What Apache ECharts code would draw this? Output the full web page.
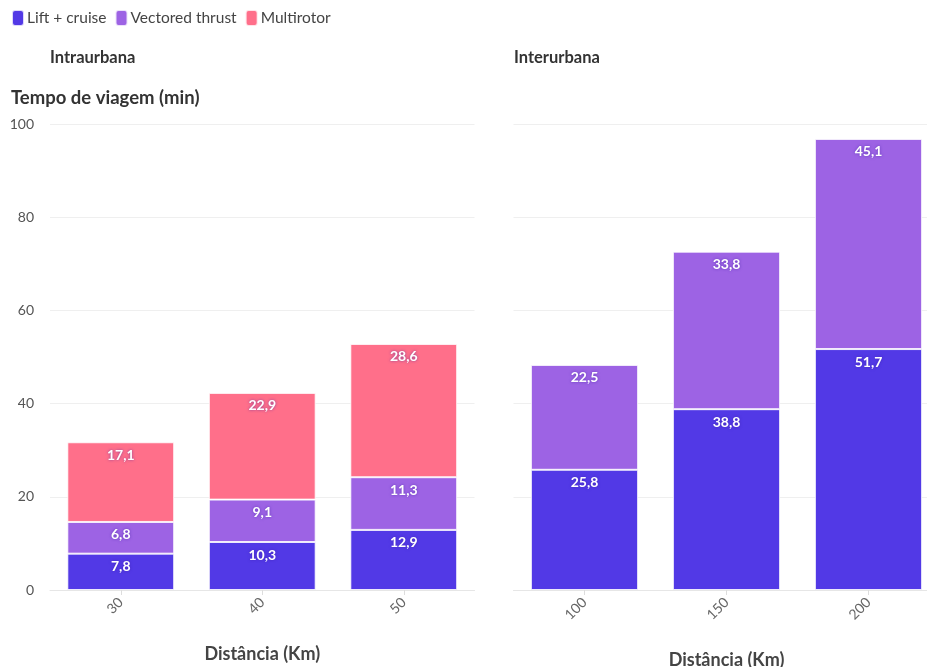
<!DOCTYPE html>
<html><head><meta charset="utf-8">
<script src="https://cdn.jsdelivr.net/npm/echarts@6/dist/echarts.min.js"></script>
<style>html,body{margin:0;padding:0;background:#fff}#c{width:927px;height:667px}</style>
</head><body><div id="c"></div>
<script>
const intraCategories = ['30', '40', '50'];
const intraLift = [7.8, 10.3, 12.9];
const intraVectored = [6.8, 9.1, 11.3];
const intraMulti = [17.1, 22.9, 28.6];
const interCategories = ['100', '150', '200'];
const interLift = [25.8, 38.8, 51.7];
const interVectored = [22.5, 33.8, 45.1];
const yTicks = [0, 20, 40, 60, 80, 100];

const FONT = 'Lato';
const cLift = '#5239e6', cVect = '#9d63e4', cMulti = '#ff6f8a';
const chart = echarts.init(document.getElementById('c'), null, {renderer: 'canvas'});

const label = {
  show: true, position: 'insideTop', distance: 6, color: '#fff', fontWeight: 'bold',
  fontSize: 14, fontFamily: FONT, textShadowColor: 'rgba(60,30,160,0.6)', textShadowBlur: 3,
  formatter: p => String(p.value).replace('.', ',')
};
const item = c => ({color: c, borderColor: 'rgba(255,255,255,0.8)', borderWidth: 1});
function bar(name, data, color, idx) {
  return {name, type: 'bar', stack: 's' + idx, data, xAxisIndex: idx, yAxisIndex: idx,
    barWidth: '75.5%', itemStyle: item(color), label, emphasis: {disabled: true}};
}
const xBase = (cats) => ({
  type: 'category', data: cats,
  axisLine: {lineStyle: {color: '#e6e6e6'}},
  axisTick: {show: true, alignWithLabel: true, lineStyle: {color: '#ddd'}},
  axisLabel: {rotate: 45, color: '#666', fontSize: 14, fontFamily: FONT, margin: 10},
  name: 'Distância (Km)', nameLocation: 'middle',
  nameTextStyle: {fontWeight: 'bold', fontSize: 18, color: '#444', fontFamily: FONT}
});
const yBase = (show) => ({
  type: 'value', min: 0, max: 100, interval: 20,
  axisLabel: {show, color: '#555', fontSize: 14, fontFamily: FONT, margin: 16,
    formatter: v => yTicks.includes(v) ? String(v) : ''},
  splitLine: {lineStyle: {color: '#efefef'}},
  axisLine: {show: false}, axisTick: {show: false}
});

chart.setOption({
  animation: false,
  textStyle: {fontFamily: FONT},
  legend: {
    left: 6, top: 4, icon: 'roundRect', itemWidth: 12, itemHeight: 16, itemGap: 8,
    textStyle: {fontSize: 15.5, color: '#444', fontFamily: FONT, padding: [0, 0, 0, -2]},
    data: ['Lift + cruise', 'Vectored thrust', 'Multirotor']
  },
  title: [
    {text: 'Intraurbana', left: 45, top: 44, textStyle: {fontSize: 16.5, fontWeight: 'bold', color: '#333', fontFamily: FONT}},
    {text: 'Interurbana', left: 509, top: 44, textStyle: {fontSize: 16.5, fontWeight: 'bold', color: '#333', fontFamily: FONT}},
    {text: 'Tempo de viagem (min)', left: 6, top: 84, textStyle: {fontSize: 18.5, fontWeight: 'bold', color: '#333', fontFamily: FONT}}
  ],
  grid: [
    {left: 50, width: 424.5, top: 124, height: 466, outerBoundsMode: 'none'},
    {left: 513.5, width: 426, top: 124, height: 466, outerBoundsMode: 'none'}
  ],
  xAxis: [
    Object.assign(xBase(intraCategories), {gridIndex: 0, nameGap: 55}),
    Object.assign(xBase(interCategories), {gridIndex: 1, nameGap: 61})
  ],
  yAxis: [
    Object.assign(yBase(true), {gridIndex: 0}),
    Object.assign(yBase(false), {gridIndex: 1})
  ],
  series: [
    bar('Lift + cruise', intraLift, cLift, 0),
    bar('Vectored thrust', intraVectored, cVect, 0),
    bar('Multirotor', intraMulti, cMulti, 0),
    bar('Lift + cruise', interLift, cLift, 1),
    bar('Vectored thrust', interVectored, cVect, 1)
  ]
});
</script></body></html>
